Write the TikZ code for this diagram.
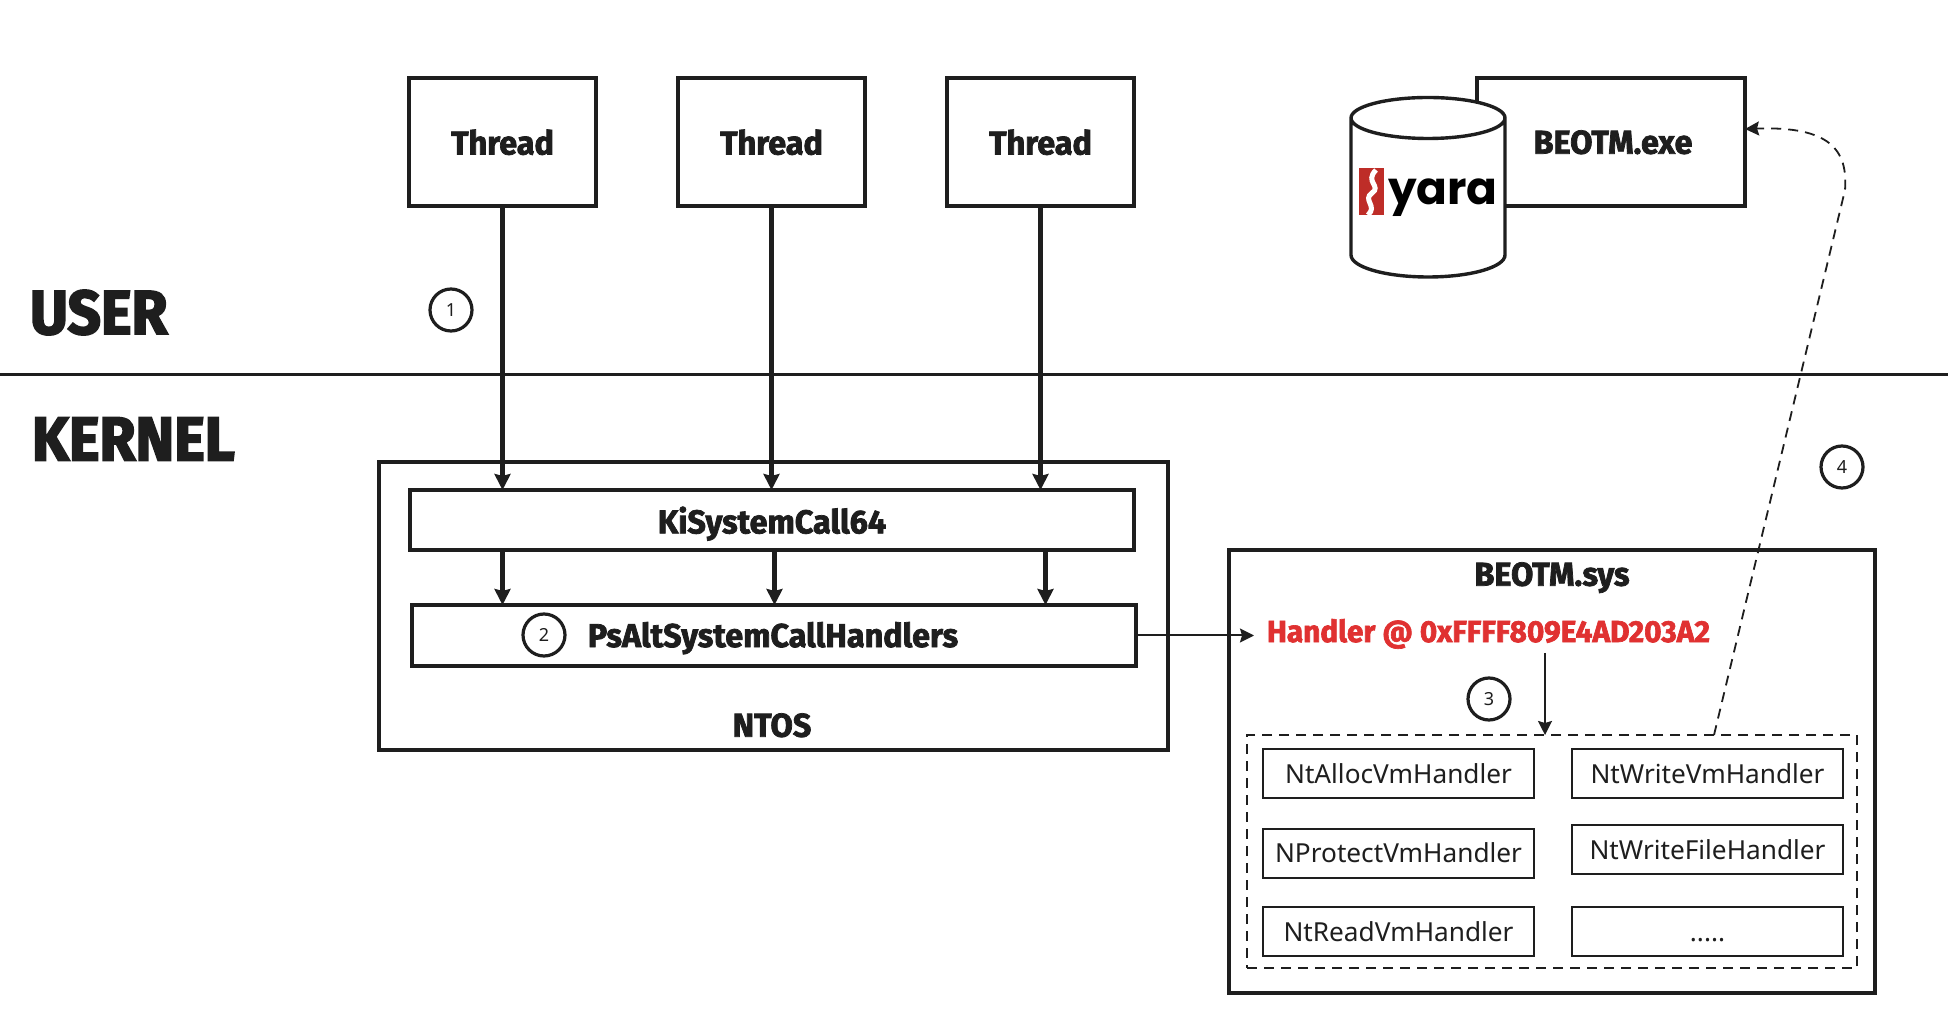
\documentclass[tikz,border=0pt]{standalone}
\usepackage{fontspec}
\usepackage{tikz}
\usetikzlibrary{shapes,arrows,arrows.meta,positioning,calc}
\setmainfont{Noto Sans}
\newfontfamily\headfont[BoldFeatures={FakeStretch=0.98,FakeBold=2.2}]{Fira Sans}
\newfontfamily\titlefont[BoldFeatures={FakeStretch=0.94,FakeBold=3}]{Fira Sans}
\newfontfamily\logofont{Poppins}
\definecolor{inkblack}{RGB}{30, 30, 30}
\definecolor{handlerred}{RGB}{224, 49, 49}
\definecolor{yarared}{RGB}{190, 45, 40}

\begin{document}
\begin{tikzpicture}[
    x=0.5pt, y=-0.5pt,
    node distance=10pt,
    every node/.style={outer sep=0pt, inner sep=0pt, text=inkblack},
    thickbox/.style={rectangle, draw=inkblack, fill=white, line width=1.7pt, align=center, text depth=0pt, font=\headfont\bfseries\fontsize{16.5}{20}\selectfont},
    threadbox/.style={thickbox, minimum width=93.5pt, minimum height=64pt},
    callbox/.style={thickbox, minimum width=362pt, minimum height=30pt},
    handlerbox/.style={rectangle, draw=inkblack, line width=1pt, minimum width=135.5pt, minimum height=24.5pt, font=\fontsize{13.1}{15}\selectfont},
    stepmark/.style={circle, draw=inkblack, fill=white, line width=1.6pt, minimum size=21pt, font=\fontsize{9}{11}\selectfont},
    heading/.style={text depth=0pt, font=\titlefont\bfseries\fontsize{31}{36}\selectfont},
    arrow/.style={-{Stealth[length=8pt, width=8pt, inset=1pt]}, draw=inkblack, line width=2.2pt},
    thinarrow/.style={-{Stealth[length=7pt, width=7pt, inset=1pt]}, draw=inkblack, line width=1pt},
    dashedarrow/.style={-{Stealth[length=7pt, width=7pt, inset=1pt]}, draw=inkblack, line width=0.9pt, dash pattern=on 5pt off 3.5pt}
]
    \useasboundingbox (0,0) rectangle (1948,1036);

    % User / kernel split
    \coordinate (splitL) at (0,375);
    \coordinate (splitR) at (1948,375);
    \draw[inkblack, line width=1.5pt] (splitL) -- (splitR);
    \node[heading, anchor=west] (user) at (30,312) {USER};
    \node[heading, anchor=west] (kernel) at (32,439) {KERNEL};

    % Threads
    \node[threadbox] (thA) at (502.5,142) {Thread};
    \node[threadbox, right=41pt of thA] (thB) {Thread};
    \node[threadbox, right=41pt of thB] (thC) {Thread};

    % NTOS
    \node[thickbox, minimum width=394.5pt, minimum height=144pt] (ntos) at (773.5,606) {};
    \node[thickbox, draw=none, fill=none] (ntoslabel) at (772,725) {NTOS};
    \node[callbox] (kisys) at (772,520) {KiSystemCall64};
    \node[callbox, minimum height=30.5pt] (psalt) at (774,635.5) {};
    \node[thickbox, draw=none, fill=none] (psaltlabel) at (773,634.5) {PsAltSystemCallHandlers};

    % Calls
    \draw[arrow] (thA.south) -- (thA.south |- kisys.north);
    \draw[arrow] (thB.south) -- (thB.south |- kisys.north);
    \draw[arrow] (thC.south) -- (thC.south |- kisys.north);
    \draw[arrow] (thA.south |- kisys.south) -- (thA.south |- psalt.north);
    \draw[arrow] ([xshift=1.5pt]thB.south |- kisys.south) -- ([xshift=1.5pt]thB.south |- psalt.north);
    \draw[arrow] ([xshift=2.5pt]thC.south |- kisys.south) -- ([xshift=2.5pt]thC.south |- psalt.north);

    % BEOTM.exe and its rules
    \node[thickbox, minimum width=134pt, minimum height=64pt] (exe) at (1611,142) {};
    \node[thickbox, draw=none, fill=none] (exelabel) at (1613,142) {BEOTM.exe};
    \draw[inkblack, fill=white, line width=1.7pt] (1351,118) -- (1351,255) arc[start angle=180, end angle=360, x radius=38.5pt, y radius=11pt] -- (1505,118) arc[start angle=0, end angle=180, x radius=38.5pt, y radius=10.25pt] arc[start angle=180, end angle=360, x radius=38.5pt, y radius=10.25pt];
    \node[anchor=base west, font=\logofont\bfseries\fontsize{22.7}{26}\selectfont, text=black] (yara) at (1388,205) {yara};
    \node[rectangle, fill=yarared, minimum width=12.5pt, minimum height=23.5pt] (yaramark) at (1371,192) {};
    \draw[white, line width=2.5pt] (1376,170) .. controls (1364,182) and (1382,186) .. (1372,193) .. controls (1362,200) and (1378,206) .. (1368,215);

    % BEOTM.sys
    \node[thickbox, minimum width=323pt, minimum height=221.5pt] (sys) at (1552,771.5) {};
    \node[thickbox, draw=none, fill=none] (syslabel) at (1552,574) {BEOTM.sys};
    \node[anchor=west, text depth=0pt, font=\headfont\bfseries\fontsize{15.2}{18}\selectfont, text=handlerred] (hdl) at (1267,630.5) {Handler @ 0xFFFF809E4AD203A2};
    \coordinate (hdlin) at (1254,635.5);
    \coordinate (hdlout) at (1545,653);
    \node[rectangle, draw=inkblack, line width=1pt, dash pattern=on 5pt off 3.5pt, minimum width=305pt, minimum height=116.5pt] (group) at (1552,851.5) {};

    % Handlers
    \node[handlerbox] (alloc) at (1398.5,773.5) {NtAllocVmHandler};
    \node[handlerbox] (protect) at (1398.5,853) {NProtectVmHandler};
    \node[handlerbox] (read) at (1398.5,931.5) {NtReadVmHandler};
    \node[handlerbox, right=19pt of alloc] (write) {NtWriteVmHandler};
    \node[handlerbox] (writefile) at (write |- 0,849.5) {NtWriteFileHandler};
    \node[handlerbox, right=19pt of read] (more) {\vphantom{Nd}.....};

    % Handler arrows
    \draw[thinarrow] (psalt.east) -- (hdlin);
    \draw[thinarrow] (hdlout) -- (hdlout |- group.north);
    \draw[dashedarrow] ([xshift=81pt]group.north) -- (1845,190) .. controls (1848,150) and (1830,126) .. ([yshift=6.5pt]exe.east);

    % Steps
    \node[stepmark] (stepA) at (451,310) {1};
    \node[stepmark] (stepB) at (544,635) {2};
    \node[stepmark] (stepC) at (1489,699) {3};
    \node[stepmark] (stepD) at (1842,467) {4};

\end{tikzpicture}
\end{document}
